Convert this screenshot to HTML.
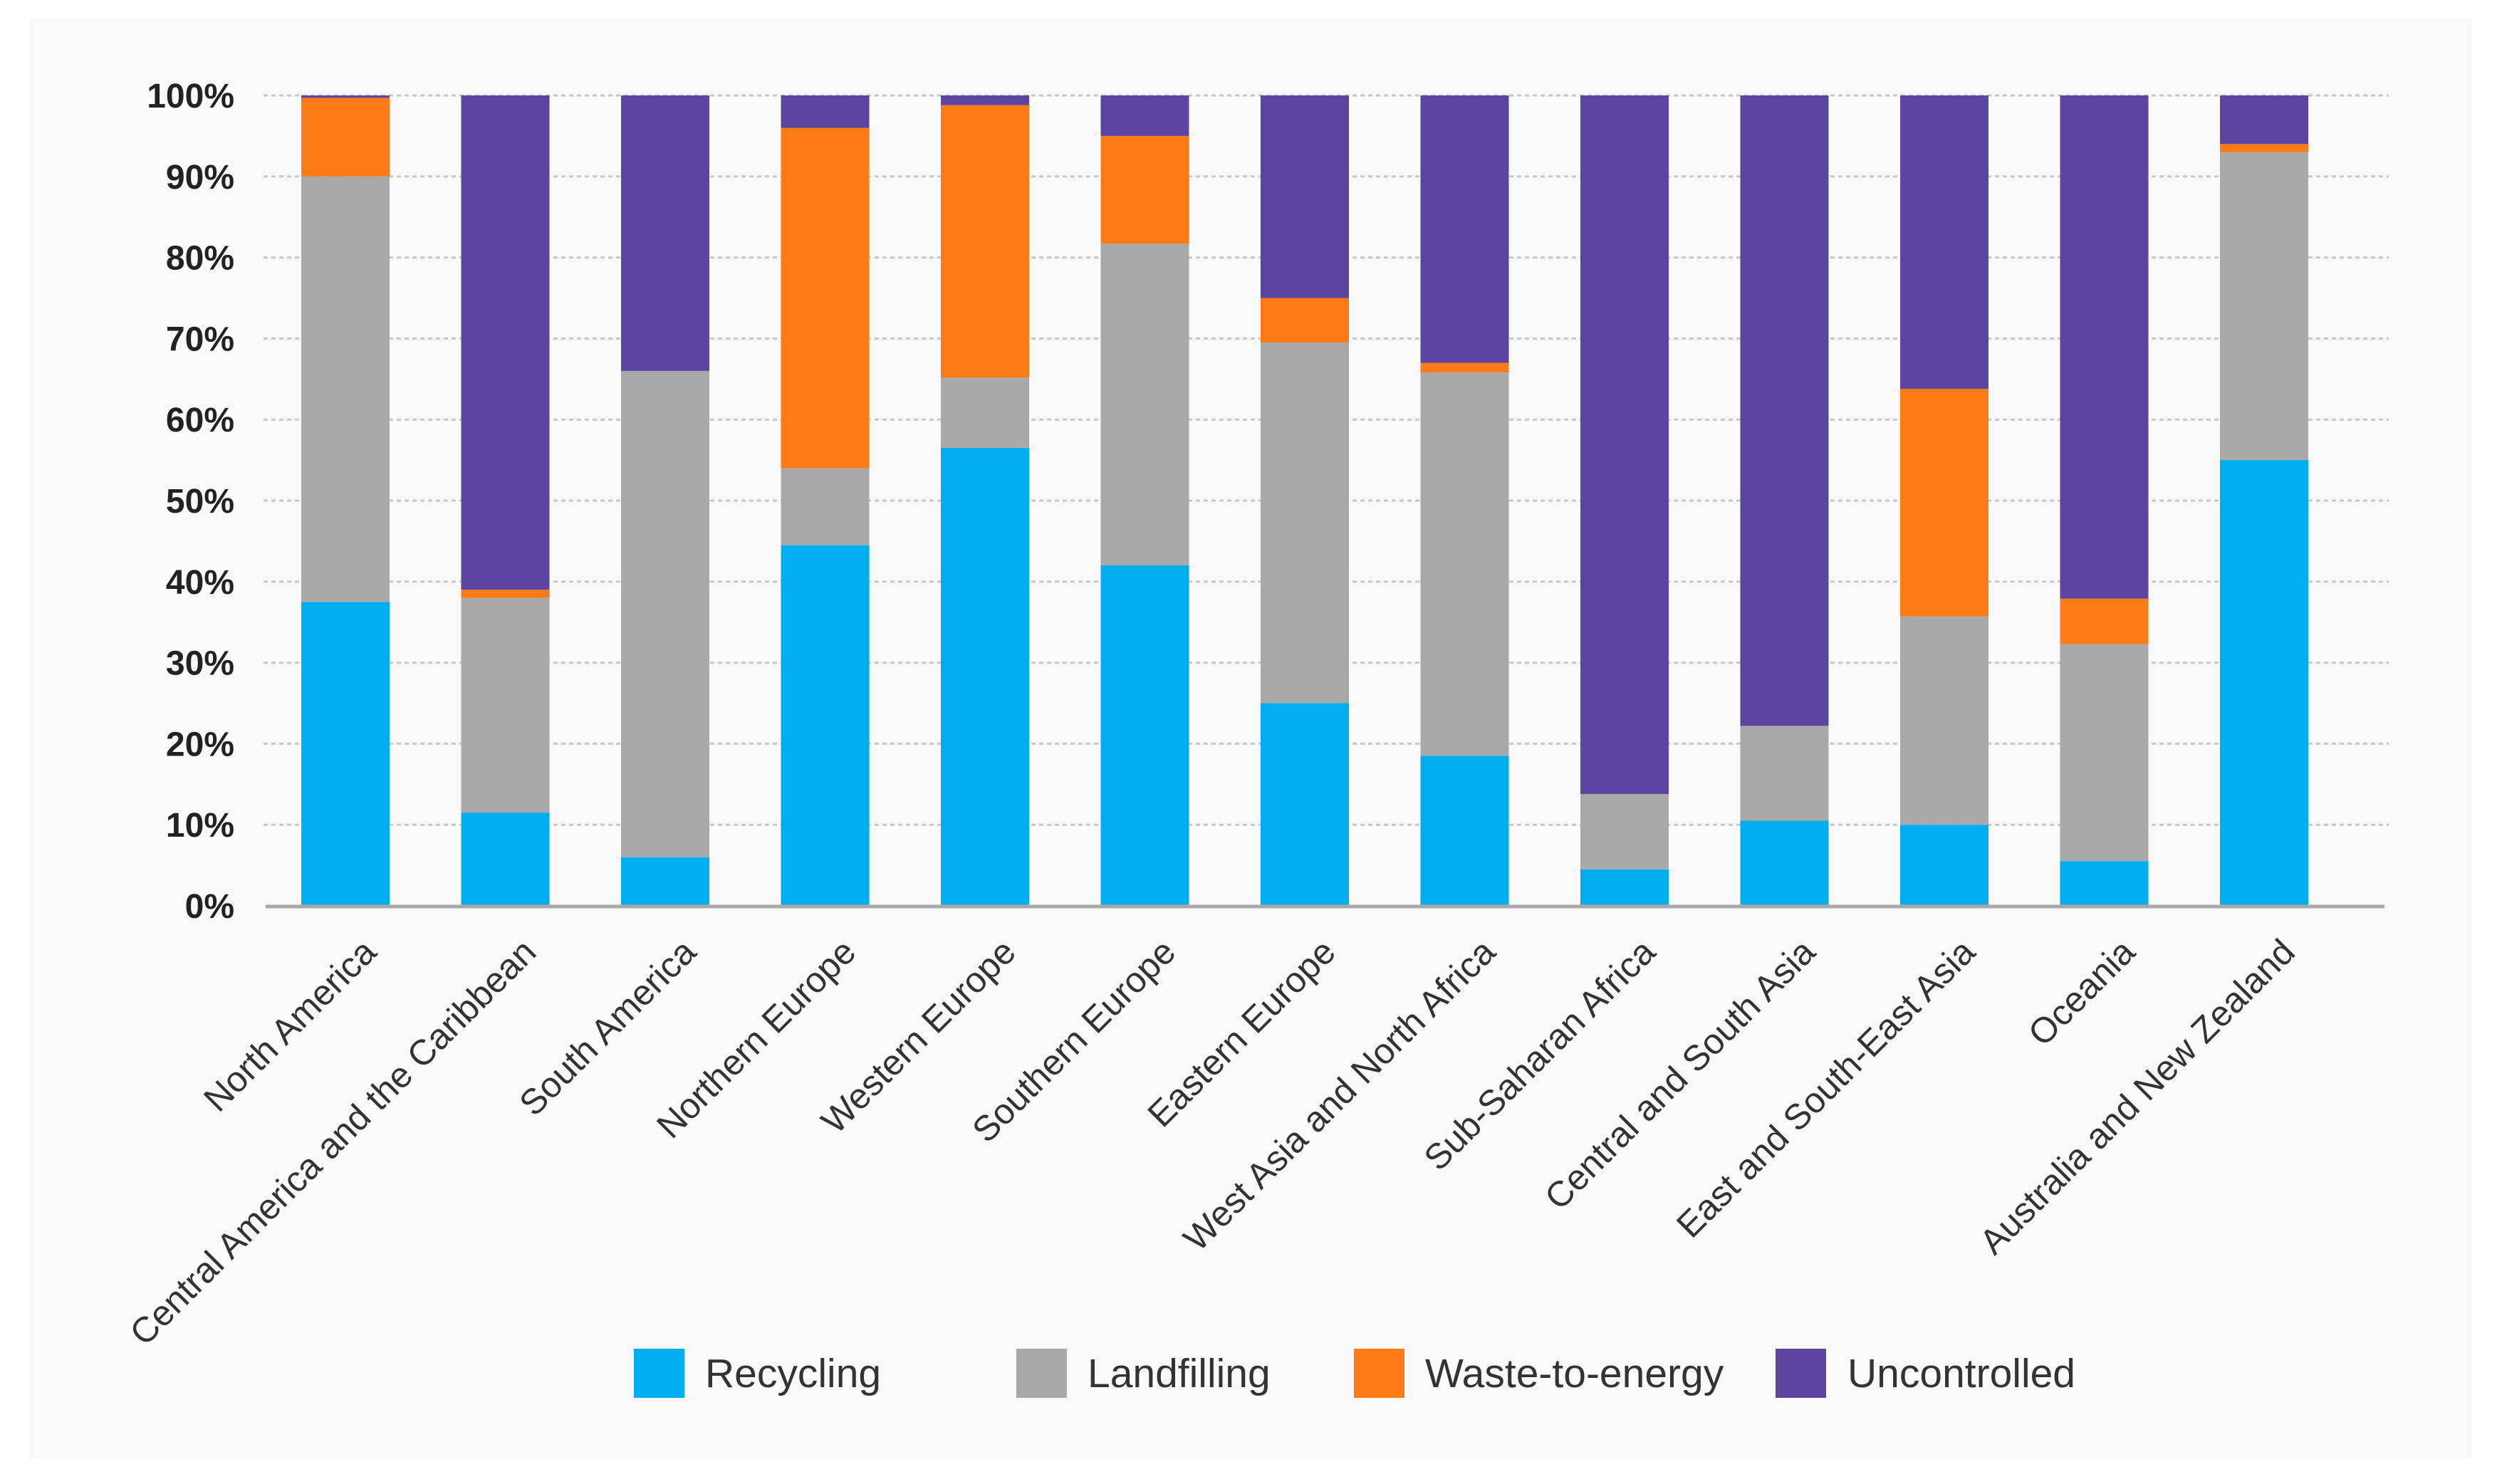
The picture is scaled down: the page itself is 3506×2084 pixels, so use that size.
<!DOCTYPE html>
<html><head><meta charset="utf-8"><style>
html,body{margin:0;padding:0;background:#fff;}
svg{display:block;font-family:"Liberation Sans",sans-serif;}
</style></head><body>
<svg id="chart" width="3506" height="2084" viewBox="0 0 3506 2084" xmlns="http://www.w3.org/2000/svg">
<rect x="42" y="26" width="3428" height="2022" fill="#f9f9f9"/>
<g id="grid"></g><g id="bars"></g><g id="yaxis"></g><g id="xaxis"></g>
<line x1="373" y1="1273" x2="3348" y2="1273" stroke="#aaaaaa" stroke-width="5"/>
<g>
<rect x="890" y="1894" width="71" height="69" fill="#00aeef"/>
<text x="990" y="1948" font-size="57" fill="#333">Recycling</text>
<rect x="1427" y="1894" width="71" height="69" fill="#a9a9a9"/>
<text x="1527" y="1948" font-size="57" fill="#333">Landfilling</text>
<rect x="1901" y="1894" width="71" height="69" fill="#fd7a17"/>
<text x="2001" y="1948" font-size="57" fill="#333">Waste-to-energy</text>
<rect x="2493" y="1894" width="71" height="69" fill="#5b45a0"/>
<text x="2594" y="1948" font-size="57" fill="#333">Uncontrolled</text>
</g>
</svg>
<script>
const categories=["North America","Central America and the Caribbean","South America","Northern Europe","Western Europe","Southern Europe","Eastern Europe","West Asia and North Africa","Sub-Saharan Africa","Central and South Asia","East and South-East Asia","Oceania","Australia and New Zealand"];
const recycling=[37.5,11.5,6,44.5,56.5,42,25,18.5,4.5,10.5,10,5.5,55];
const landfilling=[52.5,26.5,60,9.5,8.7,39.7,44.5,47.3,9.3,11.7,25.7,26.8,38];
const wasteToEnergy=[9.7,1,0,42,33.6,13.3,5.5,1.2,0,0,28.1,5.6,1];
const uncontrolled=[0.3,61,34,4,1.2,5,25,33,86.2,77.8,36.2,62.1,6];
const yTicks=[0,10,20,30,40,50,60,70,80,90,100];
const yTickLabels=["0%","10%","20%","30%","40%","50%","60%","70%","80%","90%","100%"];

const NS="http://www.w3.org/2000/svg";
const y0=1272,y100=134,firstLeft=423,step=224.5,barW=124;
function yScale(v){return y0-(y0-y100)*v/100;}
function xScale(i){return firstLeft+i*step;}
function mk(tag,attrs,parent){const e=document.createElementNS(NS,tag);for(const k in attrs)e.setAttribute(k,attrs[k]);parent.appendChild(e);return e;}
const grid=document.getElementById('grid'),bars=document.getElementById('bars'),ya=document.getElementById('yaxis'),xa=document.getElementById('xaxis');
yTicks.forEach((t,i)=>{
  if(t>0){const l=mk('line',{x1:370,x2:3354,y1:yScale(t),y2:yScale(t),stroke:'#c8c8c8','stroke-width':3,'stroke-dasharray':'6 5'},grid);
  
  }
  const tx=mk('text',{x:329,y:yScale(t)+17,'text-anchor':'end','font-size':48,'font-weight':'bold',fill:'#222'},ya);
  tx.textContent=yTickLabels[i];
  
  
});
const series=[[recycling,'#00aeef','recycling'],[landfilling,'#a9a9a9','landfilling'],[wasteToEnergy,'#fd7a17','waste-to-energy'],[uncontrolled,'#5b45a0','uncontrolled']];
categories.forEach((c,i)=>{
  let acc=0;const x=xScale(i);
  series.forEach(([arr,col,nm])=>{
    const v=arr[i];if(v<=0)return;
    const r=mk('rect',{x:x,y:yScale(acc+v),width:barW,height:yScale(acc)-yScale(acc+v),fill:col},bars);
    
    
    acc+=v;
  });
  const cx=x+barW/2+46;
  const t=mk('text',{x:0,y:0,transform:`translate(${cx},1340) rotate(-45)`,'text-anchor':'end','font-size':50,fill:'#333'},xa);
  t.textContent=c;
  
  
});
</script>
</body></html>
